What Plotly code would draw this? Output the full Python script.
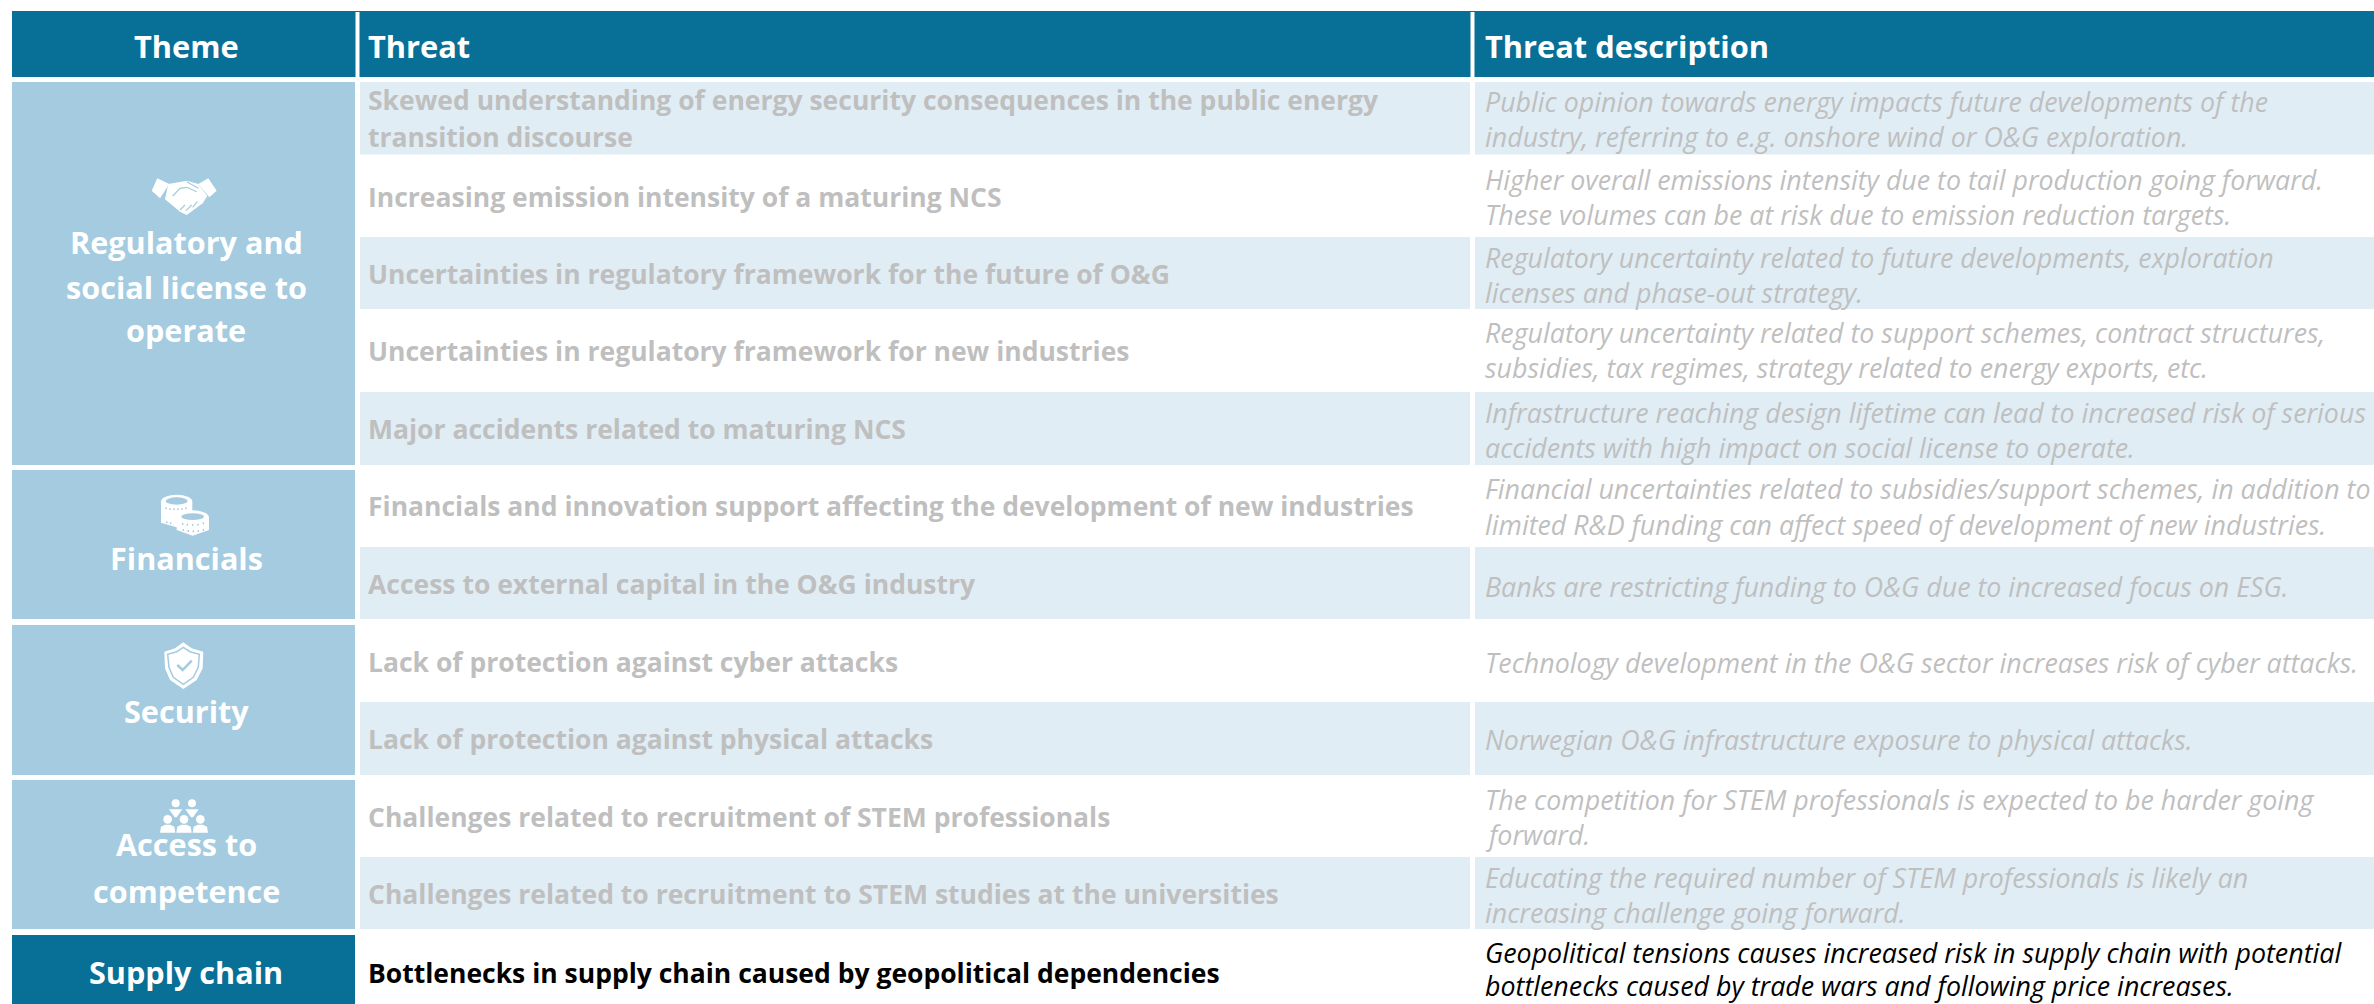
import plotly.graph_objects as go

# ---------- content ----------
headers = ["Theme", "Threat", "Threat description"]
themes = [["Regulatory and", "social license to", "operate"], ["Financials"], ["Security"],
          ["Access to", "competence"], ["Supply chain"]]
threats = [
    ["Skewed understanding of energy security consequences in the public energy", "transition discourse"],
    ["Increasing emission intensity of a maturing NCS"],
    ["Uncertainties in regulatory framework for the future of O&G"],
    ["Uncertainties in regulatory framework for new industries"],
    ["Major accidents related to maturing NCS"],
    ["Financials and innovation support affecting the development of new industries"],
    ["Access to external capital in the O&G industry"],
    ["Lack of protection against cyber attacks"],
    ["Lack of protection against physical attacks"],
    ["Challenges related to recruitment of STEM professionals"],
    ["Challenges related to recruitment to STEM studies at the universities"],
    ["Bottlenecks in supply chain caused by geopolitical dependencies"],
]
descriptions = [
    ["Public opinion towards energy impacts future developments of the", "industry, referring to e.g. onshore wind or O&G exploration."],
    ["Higher overall emissions intensity due to tail production going forward.", "These volumes can be at risk due to emission reduction targets."],
    ["Regulatory uncertainty related to future developments, exploration", "licenses and phase-out strategy."],
    ["Regulatory uncertainty related to support schemes, contract structures,", "subsidies, tax regimes, strategy related to energy exports, etc."],
    ["Infrastructure reaching design lifetime can lead to increased risk of serious", "accidents with high impact on social license to operate."],
    ["Financial uncertainties related to subsidies/support schemes, in addition to", "limited R&D funding can affect speed of development of new industries."],
    ["Banks are restricting funding to O&G due to increased focus on ESG."],
    ["Technology development in the O&G sector increases risk of cyber attacks."],
    ["Norwegian O&G infrastructure exposure to physical attacks."],
    ["The competition for STEM professionals is expected to be harder going", "forward."],
    ["Educating the required number of STEM professionals is likely an", "increasing challenge going forward."],
    ["Geopolitical tensions causes increased risk in supply chain with potential", "bottlenecks caused by trade wars and following price increases."],
]

# ---------- layout ----------
W, H = 2374, 1004
NAVY, THEME, STRIPE, GREY = "#086F96", "#A4CBE0", "#E0EDF5", "#BFBFBF"
FONT = "Open Sans"
col_x = [(12, 355), (360, 1470), (1475, 2374)]
row_edges = [82, 154.5, 237, 309, 392, 465, 547, 619, 702, 775, 857, 929, 1004]
theme_y = [(82, 465), (470, 619), (625, 775), (780, 929), (935, 1004)]
threat_y = [[100, 137], [197], [274], [351], [429], [506], [584], [662], [739], [817], [894], [973]]
desc_y = [[101, 136], [179, 214], [257, 292], [332, 367], [412, 447], [488, 524], [586], [662], [739],
          [799, 834], [877, 912], [952, 985.5]]
theme_text_y = [[242, 287, 330], [558], [711], [844, 891], [972]]

shapes, notes = [], []

def rect(x0, x1, y0, y1, c):
    shapes.append(dict(type="rect", x0=x0, x1=x1, y0=y0, y1=y1, fillcolor=c, line_width=0, layer="below"))

def text(s, x, y, size, color, anchor="left", bold=False, italic=False):
    notes.append(dict(text=s, x=x, y=y, xanchor=anchor, yanchor="middle", showarrow=False,
                      font=dict(family=FONT, size=size, color=color, weight=700 if bold else 400,
                                style="italic" if italic else "normal"),
                      xref="x", yref="y"))

rect(12, W, 11, 77, NAVY)
shapes.append(dict(type="line", x0=357.5, x1=357.5, y0=12, y1=77, line=dict(color="white", width=4)))
shapes.append(dict(type="line", x0=1472.5, x1=1472.5, y0=12, y1=77, line=dict(color="white", width=4)))
text(headers[0], 186, 46, 30.8, "white", "center", True)
text(headers[1], 366, 46, 30.8, "white", "left", True)
text(headers[2], 1483, 46, 30.8, "white", "left", True)

for i, ((y0, y1), lines, ys) in enumerate(zip(theme_y, themes, theme_text_y)):
    rect(col_x[0][0], col_x[0][1], y0, y1, NAVY if i == 4 else THEME)
    for s, y in zip(lines, ys):
        text(s, 186, y, 30.6, "white", "center", True)

for i in range(12):
    if i in (0, 2, 4, 6, 8, 10):
        rect(col_x[1][0], col_x[1][1], row_edges[i], row_edges[i + 1], STRIPE)
        rect(col_x[2][0], col_x[2][1], row_edges[i], row_edges[i + 1], STRIPE)
    c = "#000000" if i == 11 else GREY
    for s, y in zip(threats[i], threat_y[i]):
        text(s, 366, y, 26.5, c, "left", True)
    for s, y in zip(descriptions[i], desc_y[i]):
        text(s, 1483, y, 26.8, c, "left", False, True)

# ---------- icons ----------
def path(points, ox, oy, fill="white", line=None, lw=0, close=True):
    d = "M" + " L".join(f"{ox + x / 3:.1f},{oy + y / 3:.1f}" for x, y in points) + (" Z" if close else "")
    s = dict(type="path", path=d, line=dict(color=line or "rgba(0,0,0,0)", width=lw))
    if fill:
        s["fillcolor"] = fill
    shapes.append(s)

def ell(cx, cy, rx, ry, ox, oy, fill="white"):
    shapes.append(dict(type="circle", x0=ox + (cx - rx) / 3, x1=ox + (cx + rx) / 3,
                       y0=oy + (cy - ry) / 3, y1=oy + (cy + ry) / 3, fillcolor=fill, line_width=0))

# handshake
o = (130, 160)
path([(82, 55), (118, 72), (90, 115), (65, 92)], *o)
path([(235, 55), (260, 92), (238, 112), (205, 72)], *o)
path([(115, 72), (170, 62), (205, 72), (232, 108), (218, 130), (170, 165), (150, 155), (105, 118)], *o)
path([(128, 108), (150, 85), (170, 82), (200, 95)], *o, fill=None, line=THEME, lw=1.2, close=False)
path([(170, 65), (205, 85)], *o, fill=None, line=THEME, lw=1.2, close=False)
for a, b in [((150, 150), (165, 135)), ((168, 152), (185, 135)), ((188, 142), (202, 125))]:
    path([a, b], *o, fill=None, line=THEME, lw=1.2, close=False)

# coins
o = (130, 480)
path([(93, 65), (187, 65), (187, 128), (140, 142), (93, 128)], *o)
ell(140, 65, 47, 21, *o)
ell(140, 63, 33, 11, *o, fill=THEME)
ell(188, 112, 49, 21, *o)
path([(140, 112), (237, 112), (237, 150), (188, 167), (140, 150)], *o)
ell(188, 110, 34, 10, *o, fill=THEME)
for x, y, in [(108, 85), (120, 87), (132, 88), (144, 88), (156, 87), (168, 85),
              (110, 127), (122, 130), (158, 132), (172, 134), (188, 135), (204, 134), (220, 130),
              (160, 150), (175, 153), (190, 154), (205, 153), (220, 150)]:
    ell(x, y, 2.5, 3, *o, fill=THEME)

# shield
o = (130, 630)
sh = [(160, 37), (185, 55), (220, 65), (218, 115), (200, 150), (160, 177), (120, 150), (105, 115), (103, 65), (135, 55)]
path(sh, *o)
path([(160, 52), (180, 65), (208, 73), (205, 112), (190, 142), (160, 163), (130, 142), (117, 112), (113, 73), (140, 65)],
     *o, fill=None, line=THEME, lw=1.5)
path([(142, 105), (158, 120), (185, 92)], *o, fill=None, line=THEME, lw=2.5, close=False)

# people
o = (130, 780)
for x in (137, 186):
    ell(x, 70, 12, 12, *o)
    path([(x - 20, 88), (x + 20, 88), (x + 3, 112), (x - 3, 112)], *o)
for x in (113, 162, 211):
    ell(x, 118, 13, 13, *o)
    path([(x - 23, 158), (x - 20, 140), (x - 8, 134), (x + 8, 134), (x + 20, 140), (x + 23, 158)], *o)

fig = go.Figure()
fig.update_layout(
    width=W, height=H, autosize=False, margin=dict(l=0, r=0, t=0, b=0), showlegend=False,
    paper_bgcolor="white", plot_bgcolor="white", shapes=shapes, annotations=notes,
    xaxis=dict(range=[0, W], visible=False, fixedrange=True),
    yaxis=dict(range=[H, 0], visible=False, fixedrange=True),
)
fig.write_html("out.html", config=dict(displayModeBar=False),
               post_script="document.body.style.margin='0';document.body.style.overflow='hidden';")
